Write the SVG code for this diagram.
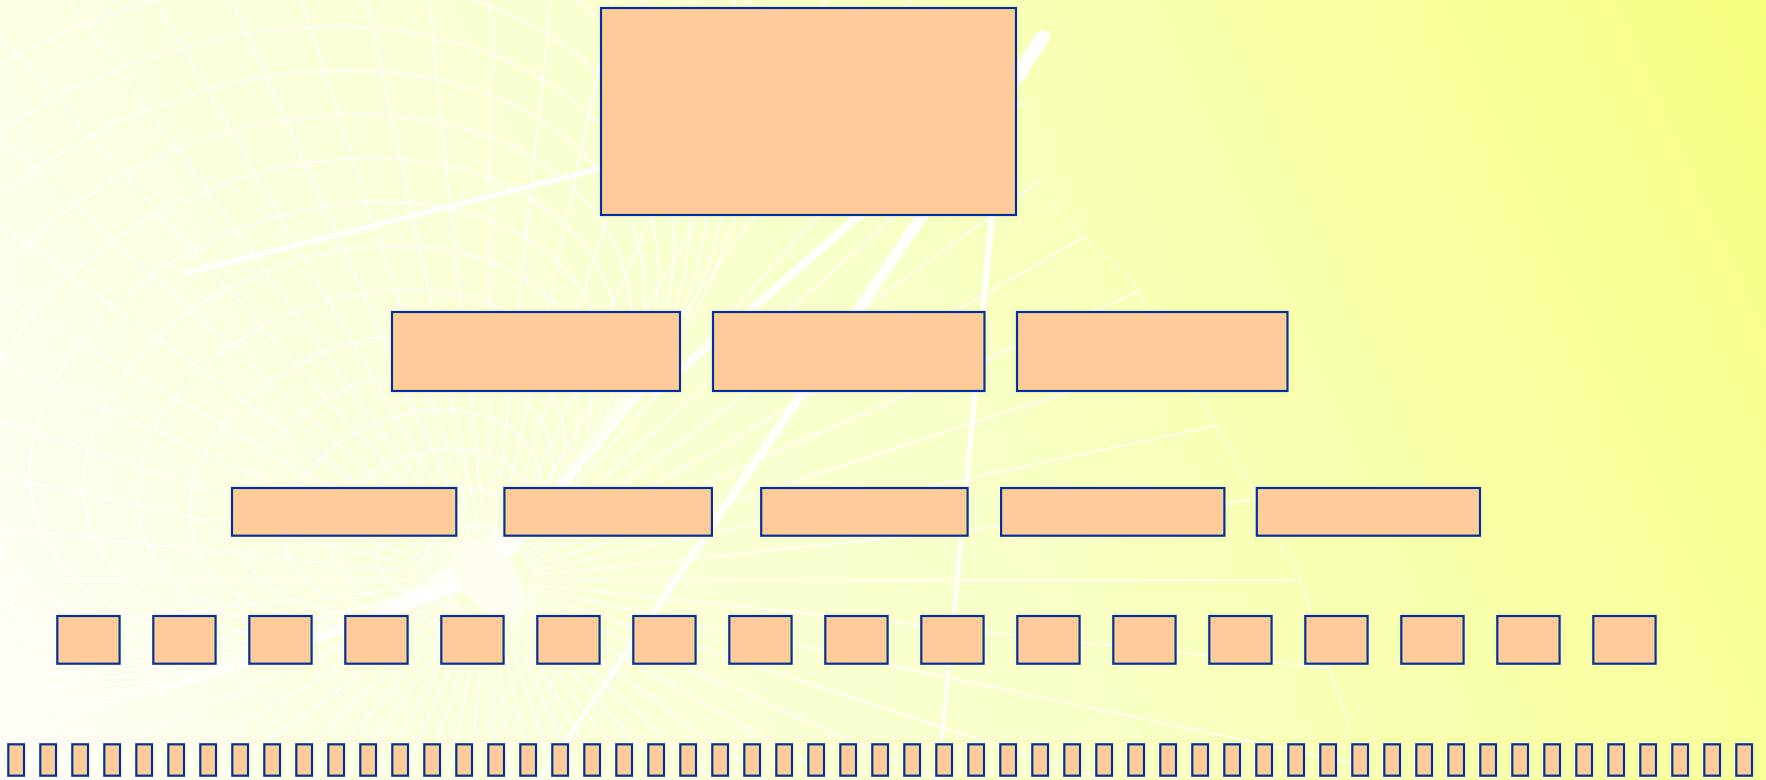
<svg xmlns="http://www.w3.org/2000/svg" xmlns:xlink="http://www.w3.org/1999/xlink" width="1766" height="780" viewBox="0 0 1766 780">
<style>
.box{fill:#FFCC99;stroke:#003399;stroke-width:2.2}
.web{fill:none;stroke:#ffffff;stroke-width:1.6;stroke-opacity:0.95}
.thick{fill:#ffffff;fill-opacity:0.95}
</style>
<defs>
<linearGradient id="bg" gradientUnits="userSpaceOnUse" x1="0" y1="780" x2="1766" y2="0">
<stop offset="0" stop-color="#FFFDF8"/>
<stop offset="0.16" stop-color="#FCFEE2"/>
<stop offset="0.36" stop-color="#FAFFD5"/>
<stop offset="0.52" stop-color="#F9FFC8"/>
<stop offset="0.6" stop-color="#F8FFBC"/>
<stop offset="0.92" stop-color="#F7FF90"/>
<stop offset="1" stop-color="#F5FF7C"/>
</linearGradient>
<clipPath id="webclip">
<polygon points="-10,-10 1000,-10 1044,197 1132,280 1227,442 1300,580 1350,727 1372,790 -10,790"/>
</clipPath>
<line id="spoke" x1="530" y1="580" x2="2200" y2="580"/>
</defs>
<rect x="0" y="0" width="1766" height="780" fill="url(#bg)"/>
<g id="background-web" clip-path="url(#webclip)">
<g class="web">
<use xlink:href="#spoke" transform="rotate(0 490 580)"/>
<use xlink:href="#spoke" transform="rotate(6 490 580)"/>
<use xlink:href="#spoke" transform="rotate(12 490 580)"/>
<use xlink:href="#spoke" transform="rotate(18 490 580)"/>
<use xlink:href="#spoke" transform="rotate(24 490 580)"/>
<use xlink:href="#spoke" transform="rotate(30 490 580)"/>
<use xlink:href="#spoke" transform="rotate(36 490 580)"/>
<use xlink:href="#spoke" transform="rotate(42 490 580)"/>
<use xlink:href="#spoke" transform="rotate(48 490 580)"/>
<use xlink:href="#spoke" transform="rotate(54 490 580)"/>
<use xlink:href="#spoke" transform="rotate(60 490 580)"/>
<use xlink:href="#spoke" transform="rotate(66 490 580)"/>
<use xlink:href="#spoke" transform="rotate(72 490 580)"/>
<use xlink:href="#spoke" transform="rotate(78 490 580)"/>
<use xlink:href="#spoke" transform="rotate(84 490 580)"/>
<use xlink:href="#spoke" transform="rotate(90 490 580)"/>
<use xlink:href="#spoke" transform="rotate(96 490 580)"/>
<use xlink:href="#spoke" transform="rotate(102 490 580)"/>
<use xlink:href="#spoke" transform="rotate(108 490 580)"/>
<use xlink:href="#spoke" transform="rotate(114 490 580)"/>
<use xlink:href="#spoke" transform="rotate(120 490 580)"/>
<use xlink:href="#spoke" transform="rotate(126 490 580)"/>
<use xlink:href="#spoke" transform="rotate(132 490 580)"/>
<use xlink:href="#spoke" transform="rotate(138 490 580)"/>
<use xlink:href="#spoke" transform="rotate(144 490 580)"/>
<use xlink:href="#spoke" transform="rotate(150 490 580)"/>
<use xlink:href="#spoke" transform="rotate(156 490 580)"/>
<use xlink:href="#spoke" transform="rotate(162 490 580)"/>
<use xlink:href="#spoke" transform="rotate(168 490 580)"/>
<use xlink:href="#spoke" transform="rotate(174 490 580)"/>
<use xlink:href="#spoke" transform="rotate(180 490 580)"/>
<use xlink:href="#spoke" transform="rotate(186 490 580)"/>
<use xlink:href="#spoke" transform="rotate(192 490 580)"/>
<use xlink:href="#spoke" transform="rotate(198 490 580)"/>
<use xlink:href="#spoke" transform="rotate(204 490 580)"/>
<use xlink:href="#spoke" transform="rotate(210 490 580)"/>
<use xlink:href="#spoke" transform="rotate(216 490 580)"/>
<use xlink:href="#spoke" transform="rotate(222 490 580)"/>
<use xlink:href="#spoke" transform="rotate(228 490 580)"/>
<use xlink:href="#spoke" transform="rotate(234 490 580)"/>
<use xlink:href="#spoke" transform="rotate(240 490 580)"/>
<use xlink:href="#spoke" transform="rotate(246 490 580)"/>
<use xlink:href="#spoke" transform="rotate(252 490 580)"/>
<use xlink:href="#spoke" transform="rotate(258 490 580)"/>
<use xlink:href="#spoke" transform="rotate(264 490 580)"/>
<use xlink:href="#spoke" transform="rotate(270 490 580)"/>
<use xlink:href="#spoke" transform="rotate(276 490 580)"/>
<use xlink:href="#spoke" transform="rotate(282 490 580)"/>
<use xlink:href="#spoke" transform="rotate(288 490 580)"/>
<use xlink:href="#spoke" transform="rotate(294 490 580)"/>
<use xlink:href="#spoke" transform="rotate(300 490 580)"/>
<use xlink:href="#spoke" transform="rotate(306 490 580)"/>
<use xlink:href="#spoke" transform="rotate(312 490 580)"/>
<use xlink:href="#spoke" transform="rotate(318 490 580)"/>
<use xlink:href="#spoke" transform="rotate(324 490 580)"/>
<use xlink:href="#spoke" transform="rotate(330 490 580)"/>
<use xlink:href="#spoke" transform="rotate(336 490 580)"/>
<use xlink:href="#spoke" transform="rotate(342 490 580)"/>
<use xlink:href="#spoke" transform="rotate(348 490 580)"/>
<use xlink:href="#spoke" transform="rotate(354 490 580)"/>
<ellipse cx="465" cy="557" rx="43" ry="30" transform="rotate(-20 465 557)"/>
<ellipse cx="447.5" cy="540.9" rx="73.1" ry="51" transform="rotate(-20 447.5 540.9)"/>
<ellipse cx="430" cy="524.8" rx="103.2" ry="72" transform="rotate(-20 430 524.8)"/>
<ellipse cx="412.5" cy="508.7" rx="133.3" ry="93" transform="rotate(-20 412.5 508.7)"/>
<ellipse cx="395" cy="492.6" rx="163.4" ry="114" transform="rotate(-20 395 492.6)"/>
<ellipse cx="377.5" cy="476.5" rx="193.5" ry="135" transform="rotate(-20 377.5 476.5)"/>
<ellipse cx="357.5" cy="458.1" rx="227.9" ry="159" transform="rotate(-20 357.5 458.1)"/>
<ellipse cx="337.5" cy="439.7" rx="262.3" ry="183" transform="rotate(-20 337.5 439.7)"/>
<ellipse cx="317.5" cy="421.3" rx="296.7" ry="207" transform="rotate(-20 317.5 421.3)"/>
<ellipse cx="297.5" cy="402.9" rx="331.1" ry="231" transform="rotate(-20 297.5 402.9)"/>
<ellipse cx="277.5" cy="384.5" rx="365.5" ry="255" transform="rotate(-20 277.5 384.5)"/>
<ellipse cx="257.5" cy="366.1" rx="399.9" ry="279" transform="rotate(-20 257.5 366.1)"/>
<ellipse cx="237.5" cy="347.7" rx="434.3" ry="303" transform="rotate(-20 237.5 347.7)"/>
<ellipse cx="215" cy="327" rx="473" ry="330" transform="rotate(-20 215 327)"/>
<ellipse cx="190" cy="304" rx="516" ry="360" transform="rotate(-20 190 304)"/>
<ellipse cx="162.5" cy="278.7" rx="563.3" ry="393" transform="rotate(-20 162.5 278.7)"/>
<ellipse cx="132.5" cy="251.1" rx="614.9" ry="429" transform="rotate(-20 132.5 251.1)"/>
<ellipse cx="100" cy="221.2" rx="670.8" ry="468" transform="rotate(-20 100 221.2)"/>
<polyline points="1044,197 1132,280 1227,442 1300,580 1350,727 1372,780"/>
</g>
<ellipse cx="490" cy="580" rx="48" ry="27" transform="rotate(52 490 580)" fill="#FFFDF0"/>
</g>
<g id="background-strokes">
<line x1="186" y1="273" x2="610" y2="166" stroke="#ffffff" stroke-width="5" stroke-linecap="round"/>
<polygon class="thick" points="1049,41 541.5,781 538.5,779 1037,33"/>
<circle class="thick" cx="1043" cy="37" r="7"/>
<polygon class="thick" points="1028,76 654,398 650,394 1020,68"/>
<circle class="thick" cx="1024" cy="72" r="5.5"/>
<polygon class="thick" points="995,216 939.5,780 936.5,780 989,216"/>
</g>
<g id="connectors"></g>
<g id="nodes">
<g id="n0"><rect class="box" x="601" y="8" width="415" height="207"/></g>
<g id="n1-1"><rect class="box" x="392" y="312" width="288" height="79"/></g>
<g id="n1-2"><rect class="box" x="713" y="312" width="271.5" height="79"/></g>
<g id="n1-3"><rect class="box" x="1017" y="312" width="270.5" height="79"/></g>
<g id="n2-1"><rect class="box" x="232" y="488" width="224.3" height="47.7"/></g>
<g id="n2-2"><rect class="box" x="504.4" y="488" width="207.5" height="47.7"/></g>
<g id="n2-3"><rect class="box" x="761.2" y="488" width="206.4" height="47.7"/></g>
<g id="n2-4"><rect class="box" x="1001.1" y="488" width="223.3" height="47.7"/></g>
<g id="n2-5"><rect class="box" x="1256.8" y="488" width="223.2" height="47.7"/></g>
<g id="n3-1"><rect class="box" x="57.3" y="616" width="62.3" height="47.7"/></g>
<g id="n3-2"><rect class="box" x="153.3" y="616" width="62.3" height="47.7"/></g>
<g id="n3-3"><rect class="box" x="249.3" y="616" width="62.3" height="47.7"/></g>
<g id="n3-4"><rect class="box" x="345.3" y="616" width="62.3" height="47.7"/></g>
<g id="n3-5"><rect class="box" x="441.3" y="616" width="62.3" height="47.7"/></g>
<g id="n3-6"><rect class="box" x="537.3" y="616" width="62.3" height="47.7"/></g>
<g id="n3-7"><rect class="box" x="633.3" y="616" width="62.3" height="47.7"/></g>
<g id="n3-8"><rect class="box" x="729.3" y="616" width="62.3" height="47.7"/></g>
<g id="n3-9"><rect class="box" x="825.3" y="616" width="62.3" height="47.7"/></g>
<g id="n3-10"><rect class="box" x="921.3" y="616" width="62.3" height="47.7"/></g>
<g id="n3-11"><rect class="box" x="1017.3" y="616" width="62.3" height="47.7"/></g>
<g id="n3-12"><rect class="box" x="1113.3" y="616" width="62.3" height="47.7"/></g>
<g id="n3-13"><rect class="box" x="1209.3" y="616" width="62.3" height="47.7"/></g>
<g id="n3-14"><rect class="box" x="1305.3" y="616" width="62.3" height="47.7"/></g>
<g id="n3-15"><rect class="box" x="1401.3" y="616" width="62.3" height="47.7"/></g>
<g id="n3-16"><rect class="box" x="1497.3" y="616" width="62.3" height="47.7"/></g>
<g id="n3-17"><rect class="box" x="1593.3" y="616" width="62.3" height="47.7"/></g>
<g id="n4-1"><rect class="box" x="8.3" y="744.3" width="15.7" height="31.4"/></g>
<g id="n4-2"><rect class="box" x="40.3" y="744.3" width="15.7" height="31.4"/></g>
<g id="n4-3"><rect class="box" x="72.3" y="744.3" width="15.7" height="31.4"/></g>
<g id="n4-4"><rect class="box" x="104.3" y="744.3" width="15.7" height="31.4"/></g>
<g id="n4-5"><rect class="box" x="136.3" y="744.3" width="15.7" height="31.4"/></g>
<g id="n4-6"><rect class="box" x="168.3" y="744.3" width="15.7" height="31.4"/></g>
<g id="n4-7"><rect class="box" x="200.3" y="744.3" width="15.7" height="31.4"/></g>
<g id="n4-8"><rect class="box" x="232.3" y="744.3" width="15.7" height="31.4"/></g>
<g id="n4-9"><rect class="box" x="264.3" y="744.3" width="15.7" height="31.4"/></g>
<g id="n4-10"><rect class="box" x="296.3" y="744.3" width="15.7" height="31.4"/></g>
<g id="n4-11"><rect class="box" x="328.3" y="744.3" width="15.7" height="31.4"/></g>
<g id="n4-12"><rect class="box" x="360.3" y="744.3" width="15.7" height="31.4"/></g>
<g id="n4-13"><rect class="box" x="392.3" y="744.3" width="15.7" height="31.4"/></g>
<g id="n4-14"><rect class="box" x="424.3" y="744.3" width="15.7" height="31.4"/></g>
<g id="n4-15"><rect class="box" x="456.3" y="744.3" width="15.7" height="31.4"/></g>
<g id="n4-16"><rect class="box" x="488.3" y="744.3" width="15.7" height="31.4"/></g>
<g id="n4-17"><rect class="box" x="520.3" y="744.3" width="15.7" height="31.4"/></g>
<g id="n4-18"><rect class="box" x="552.3" y="744.3" width="15.7" height="31.4"/></g>
<g id="n4-19"><rect class="box" x="584.3" y="744.3" width="15.7" height="31.4"/></g>
<g id="n4-20"><rect class="box" x="616.3" y="744.3" width="15.7" height="31.4"/></g>
<g id="n4-21"><rect class="box" x="648.3" y="744.3" width="15.7" height="31.4"/></g>
<g id="n4-22"><rect class="box" x="680.3" y="744.3" width="15.7" height="31.4"/></g>
<g id="n4-23"><rect class="box" x="712.3" y="744.3" width="15.7" height="31.4"/></g>
<g id="n4-24"><rect class="box" x="744.3" y="744.3" width="15.7" height="31.4"/></g>
<g id="n4-25"><rect class="box" x="776.3" y="744.3" width="15.7" height="31.4"/></g>
<g id="n4-26"><rect class="box" x="808.3" y="744.3" width="15.7" height="31.4"/></g>
<g id="n4-27"><rect class="box" x="840.3" y="744.3" width="15.7" height="31.4"/></g>
<g id="n4-28"><rect class="box" x="872.3" y="744.3" width="15.7" height="31.4"/></g>
<g id="n4-29"><rect class="box" x="904.3" y="744.3" width="15.7" height="31.4"/></g>
<g id="n4-30"><rect class="box" x="936.3" y="744.3" width="15.7" height="31.4"/></g>
<g id="n4-31"><rect class="box" x="968.3" y="744.3" width="15.7" height="31.4"/></g>
<g id="n4-32"><rect class="box" x="1000.3" y="744.3" width="15.7" height="31.4"/></g>
<g id="n4-33"><rect class="box" x="1032.3" y="744.3" width="15.7" height="31.4"/></g>
<g id="n4-34"><rect class="box" x="1064.3" y="744.3" width="15.7" height="31.4"/></g>
<g id="n4-35"><rect class="box" x="1096.3" y="744.3" width="15.7" height="31.4"/></g>
<g id="n4-36"><rect class="box" x="1128.3" y="744.3" width="15.7" height="31.4"/></g>
<g id="n4-37"><rect class="box" x="1160.3" y="744.3" width="15.7" height="31.4"/></g>
<g id="n4-38"><rect class="box" x="1192.3" y="744.3" width="15.7" height="31.4"/></g>
<g id="n4-39"><rect class="box" x="1224.3" y="744.3" width="15.7" height="31.4"/></g>
<g id="n4-40"><rect class="box" x="1256.3" y="744.3" width="15.7" height="31.4"/></g>
<g id="n4-41"><rect class="box" x="1288.3" y="744.3" width="15.7" height="31.4"/></g>
<g id="n4-42"><rect class="box" x="1320.3" y="744.3" width="15.7" height="31.4"/></g>
<g id="n4-43"><rect class="box" x="1352.3" y="744.3" width="15.7" height="31.4"/></g>
<g id="n4-44"><rect class="box" x="1384.3" y="744.3" width="15.7" height="31.4"/></g>
<g id="n4-45"><rect class="box" x="1416.3" y="744.3" width="15.7" height="31.4"/></g>
<g id="n4-46"><rect class="box" x="1448.3" y="744.3" width="15.7" height="31.4"/></g>
<g id="n4-47"><rect class="box" x="1480.3" y="744.3" width="15.7" height="31.4"/></g>
<g id="n4-48"><rect class="box" x="1512.3" y="744.3" width="15.7" height="31.4"/></g>
<g id="n4-49"><rect class="box" x="1544.3" y="744.3" width="15.7" height="31.4"/></g>
<g id="n4-50"><rect class="box" x="1576.3" y="744.3" width="15.7" height="31.4"/></g>
<g id="n4-51"><rect class="box" x="1608.3" y="744.3" width="15.7" height="31.4"/></g>
<g id="n4-52"><rect class="box" x="1640.3" y="744.3" width="15.7" height="31.4"/></g>
<g id="n4-53"><rect class="box" x="1672.3" y="744.3" width="15.7" height="31.4"/></g>
<g id="n4-54"><rect class="box" x="1704.3" y="744.3" width="15.7" height="31.4"/></g>
<g id="n4-55"><rect class="box" x="1736.3" y="744.3" width="15.7" height="31.4"/></g>
</g>
</svg>
